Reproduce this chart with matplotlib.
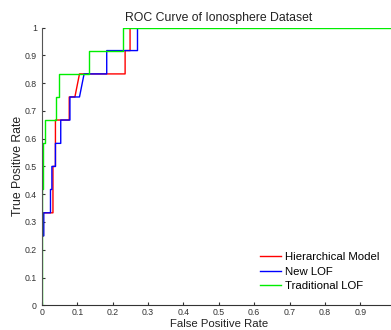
import matplotlib
matplotlib.use("Agg")
import matplotlib.pyplot as plt

plt.rcParams["font.family"] = ["Liberation Sans", "DejaVu Sans"]

# ROC points
hier_fpr = [0, 0, 0.004, 0.004, 0.031, 0.031, 0.038, 0.038, 0.077, 0.077, 0.093, 0.106, 0.235, 0.235, 0.249, 0.249, 1]
hier_tpr = [0, 0.25, 0.25, 0.333, 0.333, 0.5, 0.5, 0.667, 0.667, 0.75, 0.75, 0.833, 0.833, 0.917, 0.917, 1, 1]

new_fpr = [0, 0, 0.005, 0.005, 0.024, 0.024, 0.028, 0.028, 0.038, 0.038, 0.053, 0.053, 0.079, 0.079, 0.106, 0.119, 0.183, 0.183, 0.27, 0.27, 1]
new_tpr = [0, 0.25, 0.25, 0.333, 0.333, 0.417, 0.417, 0.5, 0.5, 0.583, 0.583, 0.667, 0.667, 0.75, 0.75, 0.833, 0.833, 0.917, 0.917, 1, 1]

trad_fpr = [0, 0, 0.004, 0.004, 0.008, 0.008, 0.040, 0.040, 0.049, 0.049, 0.133, 0.133, 0.23, 0.23, 1]
trad_tpr = [0, 0.417, 0.417, 0.583, 0.583, 0.667, 0.667, 0.75, 0.75, 0.833, 0.833, 0.917, 0.917, 1, 1]

# the x axis runs to 1 but the picture is cropped before the last tick
xticks = [i / 10 for i in range(10)]
xtick_labels = ["0", "0.1", "0.2", "0.3", "0.4", "0.5", "0.6", "0.7", "0.8", "0.9"]
yticks = [i / 10 for i in range(11)]
ytick_labels = ["0", "0.1", "0.2", "0.3", "0.4", "0.5", "0.6", "0.7", "0.8", "0.9", "1"]

fig = plt.figure(figsize=(3.91, 3.30), dpi=100)
ax = fig.add_axes([0.1074, 0.0748, 0.9046, 0.8418])

ax.plot(hier_fpr, hier_tpr, color="#ff0000", lw=1.0, label="Hierarchical Model")
ax.plot(new_fpr, new_tpr, color="#0000ff", lw=1.0, label="New LOF")
ax.plot(trad_fpr, trad_tpr, color="#00ee00", lw=1.0, label="Traditional LOF")

ax.set_xlim(0, 1)
ax.set_ylim(0, 1)
ax.set_xticks(xticks)
ax.set_xticklabels(xtick_labels)
ax.set_yticks(yticks)
ax.set_yticklabels(ytick_labels)
ax.tick_params(direction="in", length=2.5, width=0.8, labelsize=6.3, colors="#333333")
ax.tick_params(axis="x", pad=2.2)
ax.tick_params(axis="y", pad=3.6)

ax.spines["top"].set_visible(False)
ax.spines["right"].set_visible(False)
ax.spines["left"].set_color("#555555")
ax.spines["bottom"].set_color("#333333")

ax.set_title("ROC Curve of Ionosphere Dataset", fontsize=8.8, color="#222222", pad=5)
ax.set_xlabel("False Positive Rate", fontsize=8.2, color="#222222")
ax.set_ylabel("True Positive Rate", fontsize=8.8, color="#222222")
ax.xaxis.label.set_va("bottom")
ax.xaxis.set_label_coords(0.5, -0.087)
ax.yaxis.set_label_coords(-0.05, 0.5)

fig.legend(loc="center left", bbox_to_anchor=(0.665, 0.1767), frameon=False,
           fontsize=8.2, handlelength=1.87, handletextpad=0.3, labelspacing=0.4,
           borderpad=0, borderaxespad=0)

fig.savefig("out.png", dpi=100)
plt.close()
